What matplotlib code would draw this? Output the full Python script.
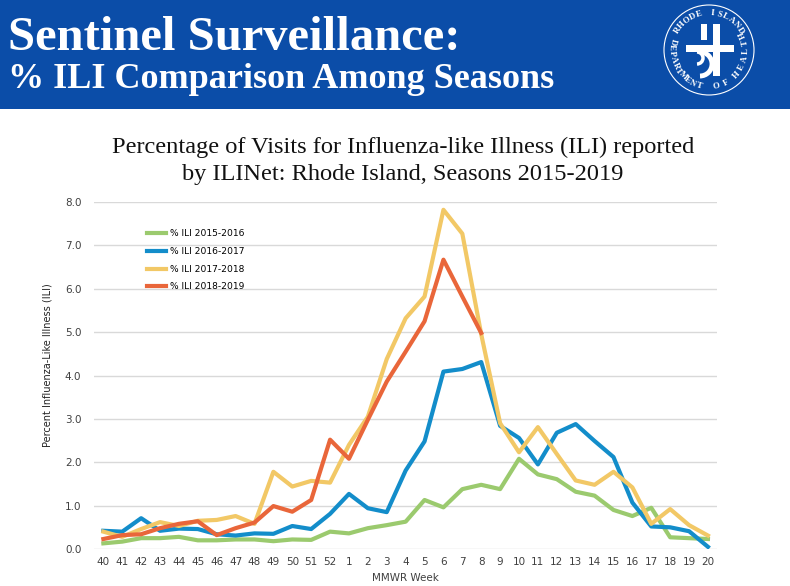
import numpy as np
import matplotlib
matplotlib.use("Agg")
import matplotlib.pyplot as plt
from matplotlib.patches import Rectangle, Circle, Arc

# MMWR weeks and % ILI per season
weeks = ['40', '41', '42', '43', '44', '45', '46', '47', '48', '49', '50', '51', '52',
         '1', '2', '3', '4', '5', '6', '7', '8', '9', '10', '11', '12', '13', '14',
         '15', '16', '17', '18', '19', '20']

ili_2015 = [0.13, 0.17, 0.25, 0.25, 0.28, 0.20, 0.20, 0.22, 0.22, 0.18, 0.22, 0.21, 0.40,
            0.36, 0.48, 0.55, 0.63, 1.13, 0.96, 1.38, 1.48, 1.38, 2.08, 1.72, 1.61, 1.32,
            1.23, 0.90, 0.76, 0.95, 0.27, 0.25, 0.23]
ili_2016 = [0.42, 0.40, 0.71, 0.42, 0.47, 0.46, 0.34, 0.31, 0.36, 0.35, 0.53, 0.46, 0.81,
            1.27, 0.94, 0.85, 1.81, 2.48, 4.09, 4.15, 4.31, 2.84, 2.56, 1.95, 2.68, 2.88,
            2.49, 2.12, 1.07, 0.52, 0.50, 0.41, 0.05]
ili_2017 = [0.40, 0.28, 0.46, 0.62, 0.53, 0.65, 0.67, 0.76, 0.58, 1.78, 1.44, 1.57, 1.53,
            2.40, 3.05, 4.38, 5.32, 5.82, 7.82, 7.27, 4.95, 2.90, 2.23, 2.81, 2.19, 1.58,
            1.48, 1.78, 1.42, 0.58, 0.92, 0.55, 0.31]
ili_2018 = [0.23, 0.32, 0.34, 0.48, 0.58, 0.64, 0.32, 0.48, 0.61, 0.99, 0.86, 1.13, 2.52,
            2.08, 2.98, 3.86, 4.55, 5.25, 6.67, 5.82, 4.98]

series = [
    ('% ILI 2015-2016', ili_2015, '#9BCA6E'),
    ('% ILI 2016-2017', ili_2016, '#138DCA'),
    ('% ILI 2017-2018', ili_2017, '#F2C866'),
    ('% ILI 2018-2019', ili_2018, '#E9663A'),
]

W, H = 790, 586
fig = plt.figure(figsize=(W / 100, H / 100), dpi=100)

# background layer in pixel coordinates (y down)
bg = fig.add_axes([0, 0, 1, 1], zorder=0)
bg.set_xlim(0, W)
bg.set_ylim(H, 0)
bg.axis('off')

blue = '#0B4DA8'
bg.add_patch(Rectangle((0, 0), W, 109, color=blue, lw=0))

bg.text(8, 50, 'Sentinel Surveillance:', color='white', fontsize=35,
        fontweight='bold', family='Liberation Serif', va='baseline')
bg.text(8, 88, '% ILI Comparison Among Seasons', color='white', fontsize=26,
        fontweight='bold', family='Liberation Serif', va='baseline')

# department of health seal
cx, cy, r = 709, 50, 45
bg.add_patch(Circle((cx, cy), r, fill=False, ec='white', lw=0.8))


def arc_text(txt, a0, a1, rad, clockwise):
    angs = np.linspace(a0, a1, len(txt))
    for ch, a in zip(txt, angs):
        if ch == ' ':
            continue
        x = cx + rad * np.cos(np.radians(a))
        y = cy - rad * np.sin(np.radians(a))
        rot = a - 90 if clockwise else a + 90
        bg.text(x, y, ch, color='white', fontsize=6.3, fontweight='bold',
                family='Liberation Serif', ha='center', va='center', rotation=rot)


arc_text('RHODE ISLAND', 148, 32, 37, True)
arc_text('DEPARTMENT', 166, 254, 37, False)
arc_text('OF', 282, 298, 37, False)
arc_text('HEALTH', 318, 385, 37, False)

# center emblem
bg.add_patch(Rectangle((686, 45), 48, 7, color='white', lw=0))
bg.add_patch(Rectangle((713, 24), 7, 52, color='white', lw=0))
bg.add_patch(Rectangle((701, 24), 6, 16, color='white', lw=0))
bg.add_patch(Arc((700, 64), 24, 24, theta1=-90, theta2=90, color='white', lw=3.5))
bg.add_patch(Arc((697, 58), 12, 12, theta1=-90, theta2=90, color='white', lw=2.5))

# chart title
bg.text(403, 153, 'Percentage of Visits for Influenza-like Illness (ILI) reported',
        fontsize=17.6, family='Liberation Serif', ha='center', va='baseline', color='#111111')
bg.text(403, 180, 'by ILINet: Rhode Island, Seasons 2015-2019',
        fontsize=17.6, family='Liberation Serif', ha='center', va='baseline', color='#111111')

# main chart
ax = fig.add_axes([93.9 / W, (H - 549) / H, (717.4 - 93.9) / W, 347 / H], zorder=1)
ax.patch.set_alpha(0)
x = np.arange(len(weeks))
for label, vals, col in series:
    ax.plot(x[:len(vals)], vals, color=col, lw=3, label=label)

ax.set_xlim(-0.5, len(weeks) - 0.5)
ax.set_ylim(0, 8)
ax.set_yticks(np.arange(0, 8.1, 1.0))
ax.set_yticklabels([f'{v:.1f}' for v in np.arange(0, 8.1, 1.0)])
ax.set_xticks(x)
ax.set_xticklabels(weeks)
ax.grid(axis='y', color='#D9D9D9', lw=1)
ax.set_axisbelow(True)
for s in ax.spines.values():
    s.set_visible(False)
ax.tick_params(length=0, labelsize=7.5, labelcolor='#404040', pad=6)
ax.tick_params(axis='y', pad=9)
ax.set_xlabel('MMWR Week', fontsize=7.5, color='#404040', labelpad=4)
ax.set_ylabel('Percent Influenza-Like Illness (ILI)', fontsize=7, color='#222222')
ax.yaxis.set_label_coords(-0.067, 0.53)

ax.legend(loc='upper left', bbox_to_anchor=(0.072, 0.945), frameon=False, fontsize=6.6,
          handlelength=2.1, labelspacing=0.95, handletextpad=0.4)

fig.savefig('out.png', dpi=100)
